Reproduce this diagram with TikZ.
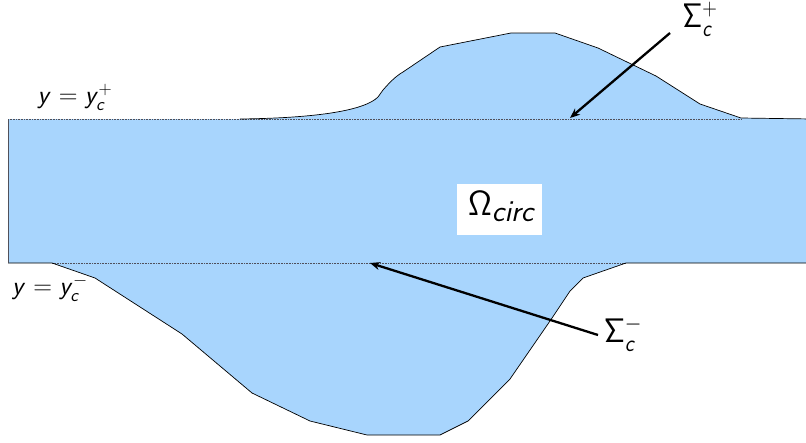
\RequirePackage{fix-cm}
\documentclass[tikz,border=0pt]{standalone}
\usetikzlibrary{arrows.meta}
\DeclareMathAlphabet{\mathsfit}{OT1}{cmss}{m}{sl}
\DeclareMathAlphabet{\mathsfup}{OT1}{cmss}{m}{n}
\definecolor{regionblue}{RGB}{168,213,253}
\definecolor{edgegray}{RGB}{80,80,90}
\begin{document}
\begin{tikzpicture}[x=1pt,y=-1pt,
  boundary/.style={draw=black, line width=0.7pt, line join=round},
  interface/.style={draw=edgegray, line width=0.6pt, densely dotted},
  pointer/.style={line width=2.3pt, -{Stealth[length=10pt,width=8pt]}},
  lab/.style={inner sep=0pt, font=\fontsize{26}{30}\selectfont},
  siglab/.style={inner sep=0pt, font=\fontsize{34}{40}\selectfont}]
\useasboundingbox (0,0) rectangle (806,442);
\clip (0,0) rectangle (806,442);
% region
\fill[regionblue] (8,119) -- (240,119)
  .. controls (320,118) and (365,110) .. (378,97) -- (383,90)
  .. controls (390,82) and (396,76) .. (403,72)
  -- (440,47) -- (511,33) -- (555,33) -- (598,48) -- (656,76) -- (700,104)
  -- (741,118) -- (812,119) -- (812,263) -- (626,263) -- (583,278) -- (570,291)
  -- (550,321) -- (510,379) -- (468,421) -- (440,435) -- (367,435) -- (310,421)
  -- (252,393) -- (182,334) -- (95,278) -- (52,263) -- (8,263) -- cycle;
% interfaces
\draw[interface] (8,119) -- (741,119);
\draw[interface] (52,263) -- (626,263);
% boundaries
\draw[boundary] (240,119)
  .. controls (320,118) and (365,110) .. (378,97) -- (383,90)
  .. controls (390,82) and (396,76) .. (403,72)
  -- (440,47) -- (511,33) -- (555,33) -- (598,48) -- (656,76) -- (700,104)
  -- (741,118) -- (812,119);
\draw[boundary] (812,263) -- (626,263) -- (583,278) -- (570,291)
  -- (550,321) -- (510,379) -- (468,421) -- (440,435) -- (367,435) -- (310,421)
  -- (252,393) -- (182,334) -- (95,278) -- (52,263) -- (8,263);
\draw[draw=edgegray, line width=0.8pt] (8,119) -- (8,263);
% labels
\node[lab] (yplus) at (75,97) {$\mathsfit{y} = \mathsfit{y}_{\mathsfit{c}}^{+}$};
\node[lab] (yminus) at (50,288) {$\mathsfit{y} = \mathsfit{y}_{\mathsfit{c}}^{-}$};
\node[siglab] (sigplus) at (700,19) {\scalebox{0.85}[1]{$\mathsfup{\Sigma}_{\mathsfit{c}}^{+}$}};
\node[siglab] (sigminus) at (623,334) {\scalebox{0.9}[1]{$\mathsfup{\Sigma}_{\mathsfit{c}}^{-}$}};
\node[fill=white, inner sep=0pt, minimum width=85pt, minimum height=51pt] (omegabox) at (499.5,209.5) {};
\node[inner sep=0pt] (omega) at (502,206) {{\fontsize{35}{40}\selectfont$\mathsfup{\Omega}$}\raisebox{-6pt}{\fontsize{30}{36}\selectfont$\mathsfit{circ}$}};
% pointers
\coordinate (plusstart) at (670,33);
\coordinate (plustip) at (570,118);
\coordinate (minusstart) at (598,335);
\coordinate (minustip) at (370,263);
\draw[pointer] (plusstart) -- (plustip);
\draw[pointer] (minusstart) -- (minustip);
\end{tikzpicture}
\end{document}
